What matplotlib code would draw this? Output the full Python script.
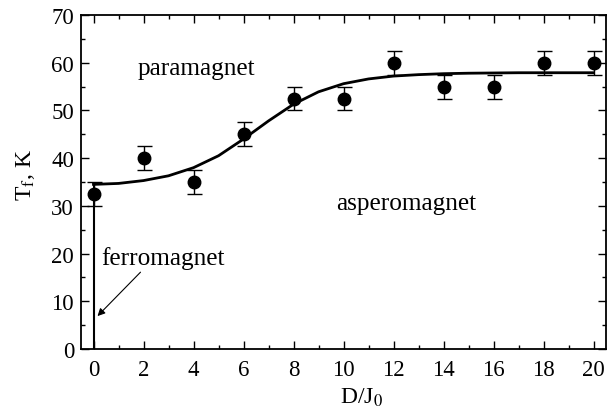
import matplotlib
matplotlib.use("Agg")
import matplotlib.pyplot as plt
from matplotlib.ticker import MultipleLocator

plt.rcParams["font.family"] = ["Liberation Serif", "DejaVu Serif"]
plt.rcParams["mathtext.fontset"] = "stix"

# measured freezing temperatures
d_ratio = [0, 2, 4, 6, 8, 10, 12, 14, 16, 18, 20]
t_freeze = [32.5, 40, 35, 45, 52.5, 52.5, 60, 55, 55, 60, 60]
t_err = [2.5] * len(d_ratio)

# smooth guide curve through the data
curve_x = list(range(0, 21))
curve_t = [34.5, 34.7, 35.3, 36.3, 38.0, 40.5, 44.0, 47.8, 51.3, 53.9, 55.6,
           56.6, 57.2, 57.5, 57.7, 57.8, 57.85, 57.9, 57.9, 57.9, 57.9]

fig = plt.figure(figsize=(6.13, 4.10), dpi=100)
ax = fig.add_axes([81 / 613, 60 / 410, 525 / 613, 334 / 410])

ax.plot(curve_x, curve_t, color="black", lw=2.0, zorder=2)
ax.errorbar(d_ratio, t_freeze, yerr=t_err, fmt="o", color="black",
            ms=9, capsize=5.4, elinewidth=1.0, capthick=1.0, zorder=3)

# ferromagnetic phase boundary at D = 0
ax.plot([0, 0], [0, curve_t[0]], color="black", lw=1.5, zorder=2)

ax.text(1.75, 57.6, "paramagnet", fontsize=18.2, va="baseline", ha="left")
ax.text(9.7, 29.3, "asperomagnet", fontsize=18.2, va="baseline", ha="left")
ax.text(0.3, 17.9, "ferromagnet", fontsize=18.2, va="baseline", ha="left")
ax.annotate("", xy=(0.16, 6.9), xytext=(1.88, 16.1),
            arrowprops=dict(arrowstyle="-|>", color="black", lw=0.8,
                            shrinkA=0, shrinkB=0, mutation_scale=11))

ax.set_xlim(-0.5, 20.5)
ax.set_ylim(0, 70)
ax.xaxis.set_major_locator(MultipleLocator(2))
ax.xaxis.set_minor_locator(MultipleLocator(1))
ax.yaxis.set_major_locator(MultipleLocator(10))
ax.yaxis.set_minor_locator(MultipleLocator(5))
ax.tick_params(which="both", direction="in", top=True, right=True,
               labelsize=16.5, width=1.0)
ax.tick_params(which="major", length=6)
ax.tick_params(which="minor", length=3)
ax.tick_params(axis="x", which="both", pad=7)
ax.tick_params(axis="y", which="both", pad=5)
for s in ax.spines.values():
    s.set_linewidth(1.3)

ax.set_xlabel(r"D/J$_\mathrm{0}$", fontsize=17)
ax.set_ylabel(r"T$_\mathrm{f}$, K", fontsize=17)
ax.xaxis.set_label_coords(0.535, -0.11)
ax.yaxis.set_label_coords(-0.083, 0.525)

fig.savefig("out.png", dpi=100)
